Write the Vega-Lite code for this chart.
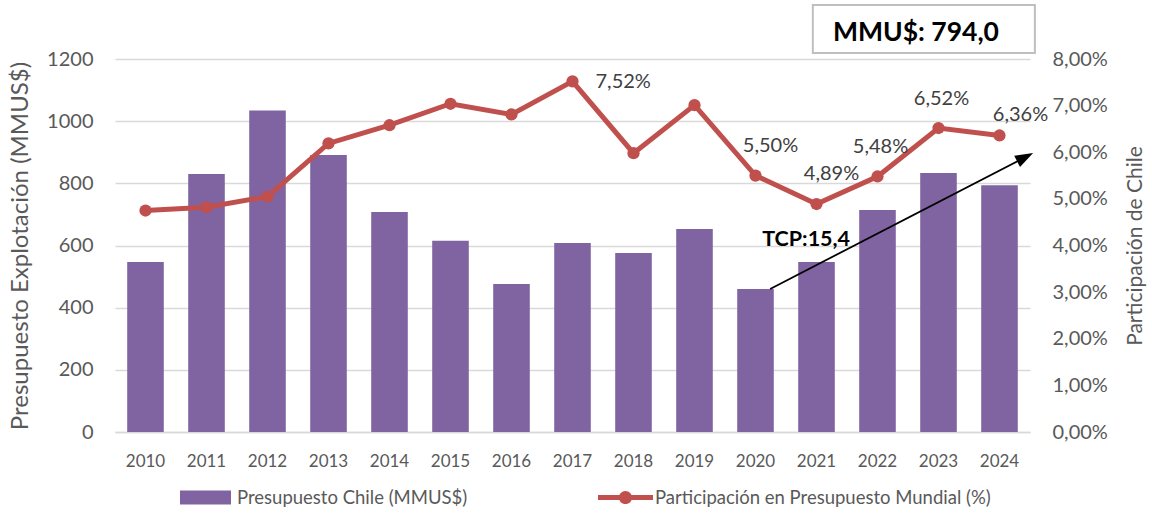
{
  "$schema": "https://vega.github.io/schema/vega-lite/v6.json",
  "width": 915,
  "height": 373,
  "autosize": {"type": "none"},
  "padding": {"left": 115, "top": 59, "right": 122, "bottom": 83},
  "background": "white",
  "config": {
    "locale": {"number": {"decimal": ",", "thousands": ".", "grouping": [3], "currency": ["$", ""]}},
    "font": "Lato",
    "view": {"stroke": null},
    "axis": {"labelFont": "Lato", "titleFont": "Lato", "labelColor": "#595959", "titleColor": "#595959", "ticks": false, "titleFontWeight": "normal"},
    "legend": {"labelFont": "Lato", "labelColor": "#595959", "labelFontSize": 18.5, "padding": 0, "labelLimit": 0}
  },
  "datasets": {
    "main": [
      {"year": "2010", "budget": 547, "share": 0.0475},
      {"year": "2011", "budget": 830, "share": 0.0482},
      {"year": "2012", "budget": 1034, "share": 0.0505},
      {"year": "2013", "budget": 891, "share": 0.0619},
      {"year": "2014", "budget": 708, "share": 0.0658},
      {"year": "2015", "budget": 615, "share": 0.0704},
      {"year": "2016", "budget": 476, "share": 0.0681},
      {"year": "2017", "budget": 608, "share": 0.0752},
      {"year": "2018", "budget": 576, "share": 0.0598},
      {"year": "2019", "budget": 653, "share": 0.0701},
      {"year": "2020", "budget": 460, "share": 0.0550},
      {"year": "2021", "budget": 547, "share": 0.0489},
      {"year": "2022", "budget": 714, "share": 0.0548},
      {"year": "2023", "budget": 833, "share": 0.0652},
      {"year": "2024", "budget": 794, "share": 0.0636}
    ],
    "arrow": [{"i": 10.24, "v": 460}, {"i": 14.42, "v": 884}],
    "head": [{"i": 14.42, "v": 884}],
    "note": [{"i": 10.83, "v": 618, "t": "TCP:15,4"}],
    "box": [{"i0": 10.94, "i1": 14.58, "v0": 1219, "v1": 1374, "ic": 12.63, "vc": 1284, "t": "MMU$: 794,0"}]
  },
  "layer": [
    {
      "layer": [
        {
          "data": {"name": "main"},
          "mark": {"type": "bar", "color": "#8064A2"},
          "encoding": {
            "x": {
              "field": "year", "type": "ordinal",
              "scale": {"type": "band", "paddingInner": 0.4, "paddingOuter": 0.2},
              "axis": {"title": null, "labelFontSize": 17, "labelPadding": 21, "domainColor": "#D9D9D9", "domainWidth": 1.3, "labelAngle": 0, "grid": false}
            },
            "y": {
              "field": "budget", "type": "quantitative",
              "scale": {"domain": [0, 1200], "nice": false},
              "axis": {"orient": "left", "values": [0, 200, 400, 600, 800, 1000, 1200], "format": "d", "title": "Presupuesto Explotación  (MMUS$)", "titleFontSize": 24, "labelFontSize": 20, "labelPadding": 22, "titlePadding": 14, "domain": false, "grid": true, "gridColor": "#D9D9D9", "gridWidth": 1.3}
            },
            "fill": {
              "datum": "Presupuesto Chile (MMUS$)", "type": "nominal",
              "scale": {"range": ["#8064A2"]},
              "legend": {"title": null, "orient": "none", "legendX": 65, "legendY": 413, "symbolType": "M-1,-0.27L1,-0.27L1,0.27L-1,0.27Z", "symbolSize": 2601, "symbolStrokeWidth": 0, "labelOffset": 6}
            }
          }
        },
        {
          "data": {"name": "main"},
          "layer": [
            {
              "mark": {"type": "line", "strokeWidth": 5},
              "encoding": {
                "x": {"field": "year", "type": "ordinal"},
                "y": {
                  "field": "share", "type": "quantitative",
                  "scale": {"domain": [0, 0.08], "nice": false},
                  "axis": {"orient": "right", "values": [0, 0.01, 0.02, 0.03, 0.04, 0.05, 0.06, 0.07, 0.08], "format": ".2%", "title": "Participación de Chile", "titleFontSize": 21, "labelFontSize": 20, "labelPadding": 22, "titlePadding": 17, "titleAngle": 270, "titleBaseline": "top", "domain": false, "grid": false}
                },
                "stroke": {
                  "datum": "Participación en Presupuesto Mundial (%)", "type": "nominal",
                  "scale": {"range": ["#C0504D"]},
                  "legend": {"title": null, "orient": "none", "legendX": 483, "legendY": 411, "symbolType": "M-1,-0.09L1,-0.09L1,0.09L-1,0.09Z M-0.24,0A0.24,0.24 0 1,1 0.24,0A0.24,0.24 0 1,1 -0.24,0Z", "symbolSize": 3025, "labelOffset": 2,
                    "encode": {"symbols": {"update": {"fill": {"value": "#C0504D"}, "strokeWidth": {"value": 0}, "opacity": {"value": 1}}}}}
                }
              }
            },
            {
              "mark": {"type": "point", "filled": true, "size": 150, "color": "#C0504D", "opacity": 1},
              "encoding": {
                "x": {"field": "year", "type": "ordinal"},
                "y": {"field": "share", "type": "quantitative"}
              }
            },
            {
              "transform": [{"filter": "datum.year == '2017'"}],
              "mark": {"type": "text", "fontSize": 20, "color": "#404040", "align": "left", "baseline": "middle", "dx": 23, "dy": 1},
              "encoding": {
                "x": {"field": "year", "type": "ordinal"},
                "y": {"field": "share", "type": "quantitative"},
                "text": {"field": "share", "type": "quantitative", "format": ".2%"}
              }
            },
            {
              "transform": [{"filter": "datum.year == '2020' || datum.year == '2021'"}],
              "mark": {"type": "text", "fontSize": 20, "color": "#404040", "align": "center", "baseline": "middle", "dx": 15, "dy": -30},
              "encoding": {
                "x": {"field": "year", "type": "ordinal"},
                "y": {"field": "share", "type": "quantitative"},
                "text": {"field": "share", "type": "quantitative", "format": ".2%"}
              }
            },
            {
              "transform": [{"filter": "datum.year == '2022' || datum.year == '2023'"}],
              "mark": {"type": "text", "fontSize": 20, "color": "#404040", "align": "center", "baseline": "middle", "dx": 3, "dy": -29},
              "encoding": {
                "x": {"field": "year", "type": "ordinal"},
                "y": {"field": "share", "type": "quantitative"},
                "text": {"field": "share", "type": "quantitative", "format": ".2%"}
              }
            },
            {
              "transform": [{"filter": "datum.year == '2024'"}],
              "mark": {"type": "text", "fontSize": 20, "color": "#404040", "align": "center", "baseline": "middle", "dx": 21, "dy": -20},
              "encoding": {
                "x": {"field": "year", "type": "ordinal"},
                "y": {"field": "share", "type": "quantitative"},
                "text": {"field": "share", "type": "quantitative", "format": ".2%"}
              }
            }
          ]
        }
      ],
      "resolve": {"scale": {"y": "independent"}}
    },
    {
      "layer": [
        {
          "data": {"name": "box"},
          "mark": {"type": "rect", "fill": "white", "stroke": "#BFBFBF", "strokeWidth": 2},
          "encoding": {
            "x": {"field": "i0", "type": "quantitative", "scale": {"domain": [-0.5, 14.5], "nice": false, "zero": false}, "axis": null},
            "x2": {"field": "i1"},
            "y": {"field": "v0", "type": "quantitative", "scale": {"domain": [0, 1200], "nice": false}, "axis": null},
            "y2": {"field": "v1"}
          }
        },
        {
          "data": {"name": "box"},
          "mark": {"type": "text", "fontSize": 26.5, "fontWeight": "bold", "color": "black", "align": "center", "baseline": "middle"},
          "encoding": {
            "x": {"field": "ic", "type": "quantitative"},
            "y": {"field": "vc", "type": "quantitative"},
            "text": {"field": "t"}
          }
        },
        {
          "data": {"name": "arrow"},
          "mark": {"type": "line", "color": "black", "strokeWidth": 1.8},
          "encoding": {
            "x": {"field": "i", "type": "quantitative"},
            "y": {"field": "v", "type": "quantitative"}
          }
        },
        {
          "data": {"name": "head"},
          "mark": {"type": "point", "shape": "M1,0L-1,-0.7L-1,0.7Z", "angle": -27.3, "size": 324, "filled": true, "color": "black", "opacity": 1},
          "encoding": {
            "x": {"field": "i", "type": "quantitative"},
            "y": {"field": "v", "type": "quantitative"}
          }
        },
        {
          "data": {"name": "note"},
          "mark": {"type": "text", "fontSize": 21.5, "fontWeight": "bold", "color": "black", "align": "center", "baseline": "middle"},
          "encoding": {
            "x": {"field": "i", "type": "quantitative"},
            "y": {"field": "v", "type": "quantitative"},
            "text": {"field": "t"}
          }
        }
      ]
    }
  ],
  "resolve": {"scale": {"x": "independent", "y": "independent"}}
}
